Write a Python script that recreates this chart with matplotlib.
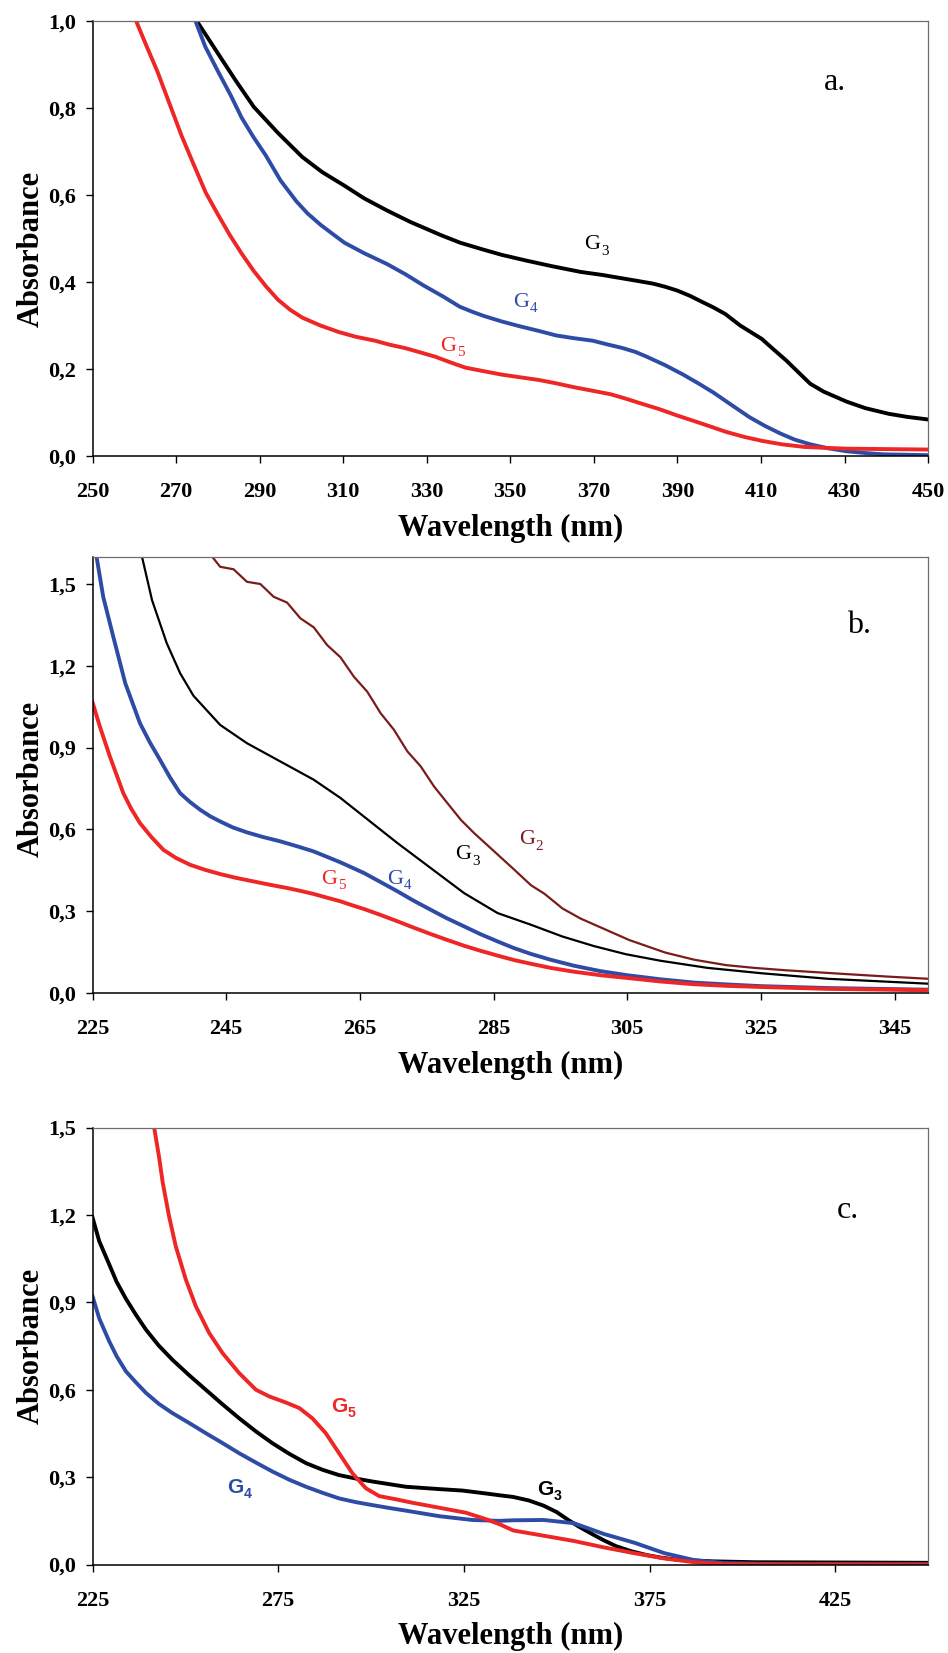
import matplotlib
matplotlib.use("Agg")
import matplotlib.pyplot as plt
from matplotlib.ticker import FuncFormatter

plt.rcParams['font.family'] = ['Liberation Serif', 'DejaVu Serif']

#
# Panel a: 250-450 nm
#
wl_a_g3 = [274.9, 280, 284.3, 288.6, 294.4, 300.2, 305, 310.3, 315, 320.5, 326, 333.5, 338,
           343.6, 348, 353.8, 360, 366.8, 372, 376.9, 380, 384.2, 387, 390, 393, 395.7,
           398.5, 401.5, 405, 410.2, 413, 416, 419, 421.8, 425, 430.5, 435, 440.6, 445, 450]
abs_a_g3 = [1.0, 0.925, 0.862, 0.802, 0.742, 0.687, 0.652, 0.621, 0.592, 0.564, 0.538, 0.507,
            0.490, 0.474, 0.462, 0.449, 0.436, 0.423, 0.416, 0.408, 0.403, 0.396, 0.389, 0.380,
            0.368, 0.355, 0.342, 0.326, 0.300, 0.269, 0.245, 0.220, 0.192, 0.166, 0.148, 0.125,
            0.110, 0.097, 0.090, 0.084]

wl_a_g4 = [274.6, 277, 280, 283, 285.7, 288.5, 291.5, 295, 298.8, 301.5, 304.6, 307.5, 310.3,
           315, 320.5, 325, 329.2, 334, 337.9, 341, 343.6, 348, 352.3, 357, 361, 365, 369.7,
           373, 376.9, 380, 382.7, 387, 391.4, 395, 398.6, 403, 407.3, 411, 414.6, 418, 421.8,
           426, 430.5, 435, 439.2, 445, 450]
abs_a_g4 = [1.0, 0.94, 0.884, 0.83, 0.777, 0.733, 0.690, 0.633, 0.585, 0.557, 0.531, 0.510,
            0.490, 0.466, 0.441, 0.417, 0.392, 0.366, 0.343, 0.331, 0.322, 0.309, 0.298, 0.287,
            0.277, 0.271, 0.265, 0.257, 0.248, 0.239, 0.228, 0.209, 0.187, 0.167, 0.146, 0.117,
            0.089, 0.069, 0.052, 0.038, 0.027, 0.018, 0.011, 0.007, 0.004, 0.003, 0.002]

wl_a_g5 = [260.4, 263, 265.5, 268.4, 271.3, 274.2, 277.1, 280, 282.9, 285.7, 288.6, 291.5,
           294.4, 297.3, 300.2, 304.5, 308.9, 313, 317.6, 321, 324.8, 328.5, 332.1, 335.7,
           339.3, 343.6, 348, 352.3, 356.7, 361, 365.3, 369.7, 374, 377.6, 381.2, 385.6, 390,
           395.7, 401.5, 406, 410.2, 415, 420.3, 425, 430.5, 440, 450]
abs_a_g5 = [1.0, 0.94, 0.884, 0.81, 0.736, 0.67, 0.605, 0.555, 0.507, 0.465, 0.425, 0.39,
            0.359, 0.336, 0.318, 0.300, 0.285, 0.274, 0.265, 0.256, 0.248, 0.238, 0.228, 0.215,
            0.203, 0.195, 0.187, 0.181, 0.175, 0.167, 0.158, 0.150, 0.142, 0.132, 0.121, 0.108,
            0.093, 0.075, 0.056, 0.044, 0.035, 0.027, 0.021, 0.019, 0.017, 0.016, 0.015]

#
# Panel b: 225-350 nm
#
wl_b_g2 = [242.9, 244.1, 246.1, 248.1, 250.1, 252.1, 254.1, 256.1, 258.1, 260.1, 262.1, 264.1,
           266.1, 268.1, 270.1, 272.1, 274.1, 276.1, 278.1, 280.1, 282.1, 285.1, 288.1, 290.6,
           292.6, 295.3, 298, 301.7, 305.3, 310.7, 315, 319.8, 324, 328.8, 337.9, 344, 350]
abs_b_g2 = [1.60, 1.563, 1.554, 1.508, 1.50, 1.453, 1.432, 1.374, 1.341, 1.276, 1.231, 1.160,
            1.105, 1.026, 0.965, 0.886, 0.831, 0.757, 0.696, 0.635, 0.586, 0.519, 0.452, 0.395,
            0.364, 0.31, 0.273, 0.233, 0.194, 0.148, 0.122, 0.102, 0.092, 0.083, 0.069, 0.060,
            0.052]

wl_b_g3 = [232.4, 233.9, 236.1, 238.1, 240.1, 244.1, 248.1, 253.1, 258.1, 262.1, 265.6, 270.6,
           275.6, 280.6, 285.6, 290.6, 295.3, 300, 304.8, 310, 317, 325.2, 335, 350]
abs_b_g3 = [1.60, 1.441, 1.283, 1.173, 1.090, 0.983, 0.916, 0.849, 0.782, 0.715, 0.647, 0.550,
            0.458, 0.366, 0.293, 0.250, 0.207, 0.172, 0.142, 0.118, 0.092, 0.072, 0.052, 0.034]

wl_b_g4 = [225.6, 226.6, 228.1, 229.9, 232.1, 233.6, 235.1, 236.6, 238.1, 239.6, 241.1, 242.6,
           244.1, 246, 248.1, 250.5, 253.1, 255.6, 258.1, 262.1, 265.6, 268, 270.6, 273, 275.6,
           278, 280.6, 283, 285.6, 288, 290.6, 293.5, 297, 301, 305, 310, 315, 320, 325, 335, 350]
abs_b_g4 = [1.60, 1.453, 1.307, 1.136, 0.989, 0.918, 0.855, 0.790, 0.733, 0.700, 0.672, 0.648,
            0.629, 0.607, 0.589, 0.572, 0.556, 0.538, 0.519, 0.479, 0.440, 0.408, 0.373, 0.339,
            0.305, 0.274, 0.244, 0.216, 0.189, 0.165, 0.143, 0.122, 0.100, 0.080, 0.065, 0.050,
            0.038, 0.031, 0.025, 0.018, 0.012]

wl_b_g5 = [225, 226.1, 227.6, 229.6, 230.8, 232.1, 233.8, 235.6, 237.5, 239.6, 241.8, 244.1,
           246.5, 249.1, 251.5, 254.1, 256, 258.1, 260, 262.1, 263.8, 265.6, 268, 270.6, 273,
           275.6, 278, 280.6, 283, 285.6, 288, 290.6, 293.5, 297, 301, 305, 310, 315, 320, 325,
           335, 350]
abs_b_g5 = [1.066, 0.977, 0.867, 0.733, 0.675, 0.623, 0.572, 0.525, 0.495, 0.470, 0.452, 0.436,
            0.422, 0.409, 0.397, 0.385, 0.375, 0.363, 0.350, 0.336, 0.322, 0.308, 0.287, 0.263,
            0.240, 0.216, 0.195, 0.173, 0.155, 0.137, 0.121, 0.107, 0.092, 0.078, 0.065, 0.055,
            0.042, 0.032, 0.026, 0.022, 0.015, 0.010]

#
# Panel c: 225-450 nm
#
wl_c_g3 = [225, 226.8, 229.5, 231.5, 234, 236.7, 239.4, 242.8, 246.5, 251, 255.5, 260, 264.5,
           269, 273.5, 278, 282.5, 287, 291.4, 296, 300.4, 309.4, 318.4, 324.6, 330.9, 334.5,
           338.3, 342.5, 346.5, 350, 353, 356, 359.5, 362.7, 366, 370, 374.1, 378, 382.2, 392,
           403.4, 427.8, 450]
abs_c_g3 = [1.191, 1.110, 1.030, 0.970, 0.912, 0.857, 0.806, 0.752, 0.703, 0.650, 0.600, 0.550,
            0.502, 0.457, 0.416, 0.380, 0.348, 0.325, 0.307, 0.295, 0.285, 0.267, 0.259, 0.254,
            0.244, 0.238, 0.232, 0.220, 0.202, 0.180, 0.154, 0.130, 0.105, 0.083, 0.063, 0.046,
            0.033, 0.024, 0.017, 0.011, 0.008, 0.007, 0.006]

wl_c_g4 = [225, 226.8, 229.5, 231.5, 234, 236.7, 239.4, 242.8, 246.5, 251, 255.5, 260, 264.5,
           269, 273.5, 278, 282.5, 287, 291.4, 296, 300.4, 305, 309.4, 318.4, 327.3, 334.5,
           338.3, 346.5, 354.6, 362.7, 370.9, 379, 387.1, 395.2, 411.5, 450]
abs_c_g4 = [0.921, 0.845, 0.766, 0.715, 0.663, 0.625, 0.589, 0.552, 0.520, 0.486, 0.451, 0.417,
            0.382, 0.350, 0.319, 0.291, 0.267, 0.246, 0.227, 0.214, 0.204, 0.194, 0.185, 0.166,
            0.153, 0.150, 0.152, 0.153, 0.142, 0.105, 0.075, 0.039, 0.015, 0.005, 0.001, 0.001]

wl_c_g5 = [241.6, 243, 243.9, 245.6, 247.4, 250.1, 252.8, 256.4, 260, 264.5, 269, 272.6, 277.1,
           280.7, 284.2, 287.8, 291.4, 295, 298.6, 302.2, 306.7, 311.2, 318.4, 325.5, 330.9,
           334.5, 338.3, 346.5, 354.6, 362.7, 370.9, 379, 387.1, 395.2, 450]
abs_c_g5 = [1.50, 1.392, 1.311, 1.196, 1.093, 0.979, 0.887, 0.795, 0.726, 0.657, 0.600, 0.577,
            0.556, 0.537, 0.502, 0.451, 0.382, 0.313, 0.262, 0.235, 0.224, 0.212, 0.195, 0.178,
            0.156, 0.139, 0.117, 0.099, 0.081, 0.059, 0.039, 0.021, 0.008, 0.001, 0.0]

BLACK = '#000000'
BLUE = '#2e4ca6'
RED = '#ee2626'
DARKRED = '#7a1c1c'

comma = FuncFormatter(lambda v, p: ('%.1f' % v).replace('.', ','))


def style_axes(ax, xlim, xticks, ylim, yticks, ylab_y):
    ax.set_xlim(*xlim)
    ax.set_ylim(*ylim)
    ax.set_xticks(xticks)
    ax.set_yticks(yticks)
    ax.yaxis.set_major_formatter(comma)
    for s in ['left', 'bottom']:
        ax.spines[s].set_color('black')
        ax.spines[s].set_linewidth(1.1)
    for s in ['top', 'right']:
        ax.spines[s].set_color('#6e6e6e')
        ax.spines[s].set_linewidth(0.9)
    ax.tick_params(axis='x', direction='out', length=5, width=1, pad=14,
                   labelsize=16)
    ax.tick_params(axis='y', direction='out', length=5, width=1, pad=7,
                   labelsize=16)
    for lab in ax.get_xticklabels() + ax.get_yticklabels():
        lab.set_fontweight('bold')
    ax.set_xlabel('Wavelength (nm)', fontsize=22, fontweight='bold')
    ax.set_ylabel('Absorbance', fontsize=22, fontweight='bold')
    ax.xaxis.set_label_coords(0.5, -0.132)
    ax.yaxis.set_label_coords(-0.056, ylab_y)


def glabel(ax, x, y, num, color, family, size, weight):
    # "G" ends at x, the subscript digit starts there, a bit lower
    ax.annotate('G', (x, y), ha='right', va='baseline', color=color,
                family=family, fontsize=size, fontweight=weight)
    ax.annotate(num, (x, y), xytext=(0.5, -4), textcoords='offset points',
                ha='left', va='baseline', color=color, family=family,
                fontsize=size * 0.68, fontweight=weight)


fig = plt.figure(figsize=(9.48, 16.53), dpi=100)

# a.
ax = fig.add_axes([0.0976, 0.7241, 0.8814, 0.2634])
ax.plot(wl_a_g3, abs_a_g3, color=BLACK, lw=2.8)
ax.plot(wl_a_g4, abs_a_g4, color=BLUE, lw=2.8)
ax.plot(wl_a_g5, abs_a_g5, color=RED, lw=2.8)
style_axes(ax, (250, 450), range(250, 451, 20), (0, 1.0), [0, 0.2, 0.4, 0.6, 0.8, 1.0], 0.475)
glabel(ax, 371.5, 0.475, '3', BLACK, 'Liberation Serif', 16, 'normal')
glabel(ax, 354.5, 0.343, '4', BLUE, 'Liberation Serif', 16, 'normal')
glabel(ax, 337, 0.242, '5', RED, 'Liberation Serif', 16, 'normal')
ax.text(427.6, 0.84, 'a.', fontsize=23, ha='center', va='baseline')

# b.
ax = fig.add_axes([0.0976, 0.3993, 0.8814, 0.2639])
ax.plot(wl_b_g2, abs_b_g2, color=DARKRED, lw=1.6)
ax.plot(wl_b_g3, abs_b_g3, color=BLACK, lw=1.6)
ax.plot(wl_b_g4, abs_b_g4, color=BLUE, lw=2.8)
ax.plot(wl_b_g5, abs_b_g5, color=RED, lw=2.8)
style_axes(ax, (225, 350), range(225, 346, 20), (0, 1.6), [0, 0.3, 0.6, 0.9, 1.2, 1.5], 0.49)
glabel(ax, 291.2, 0.545, '2', DARKRED, 'Liberation Serif', 16, 'normal')
glabel(ax, 281.7, 0.49, '3', BLACK, 'Liberation Serif', 16, 'normal')
glabel(ax, 271.5, 0.40, '4', BLUE, 'Liberation Serif', 16, 'normal')
glabel(ax, 261.6, 0.40, '5', RED, 'Liberation Serif', 16, 'normal')
ax.text(339.7, 1.32, 'b.', fontsize=23, ha='center', va='baseline')

# c.
ax = fig.add_axes([0.0976, 0.0535, 0.8814, 0.2644])
ax.plot(wl_c_g3, abs_c_g3, color=BLACK, lw=2.8)
ax.plot(wl_c_g4, abs_c_g4, color=BLUE, lw=2.8)
ax.plot(wl_c_g5, abs_c_g5, color=RED, lw=2.8)
style_axes(ax, (225, 450), range(225, 426, 50), (0, 1.5), [0, 0.3, 0.6, 0.9, 1.2, 1.5], 0.5)
glabel(ax, 293.5, 0.525, '5', RED, 'Liberation Sans', 15, 'bold')
glabel(ax, 265.5, 0.247, '4', BLUE, 'Liberation Sans', 15, 'bold')
glabel(ax, 349, 0.240, '3', BLACK, 'Liberation Sans', 15, 'bold')
ax.text(428.3, 1.19, 'c.', fontsize=23, ha='center', va='baseline')

plt.savefig('out.png', dpi=100)
plt.close()
